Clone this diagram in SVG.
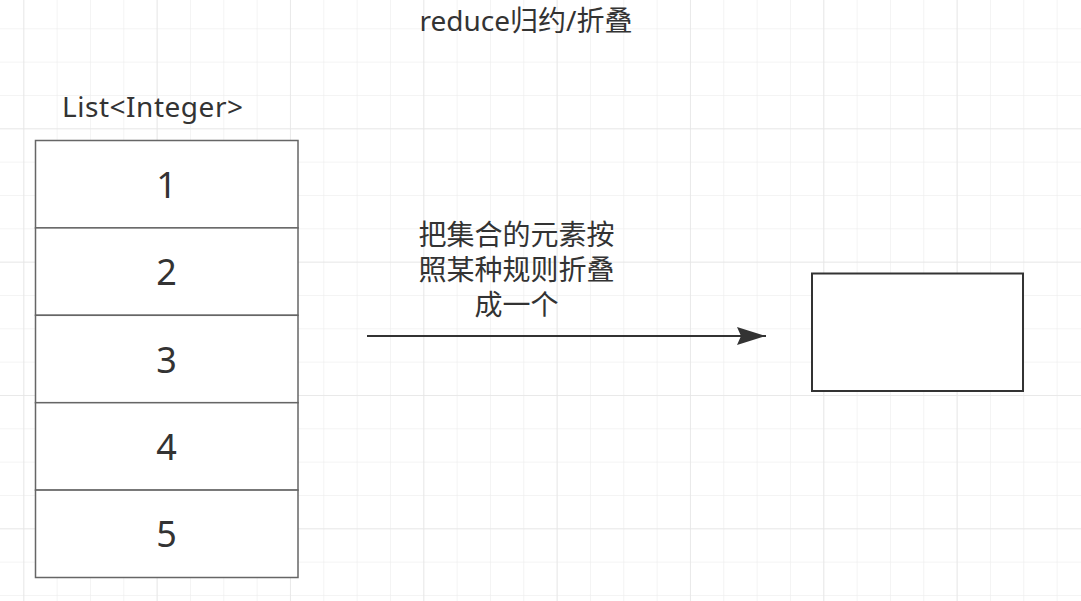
<svg xmlns="http://www.w3.org/2000/svg" width="1081" height="601" viewBox="0 0 1081 601">
<defs>
<pattern id="minor" x="23.3" y="28.3" width="33.333" height="33.333" patternUnits="userSpaceOnUse">
<path d="M0 0H33.333M0 0V33.333" fill="none" stroke="#f0f0f0" stroke-width="1.5"/>
</pattern>
<pattern id="major" x="23.3" y="-5" width="133.333" height="133.333" patternUnits="userSpaceOnUse">
<path d="M0 0H133.333M0 0V133.333" fill="none" stroke="#e6e6e6" stroke-width="1.5"/>
</pattern>
<marker id="arrow" markerUnits="userSpaceOnUse" markerWidth="30" markerHeight="20" refX="29" refY="9" orient="auto">
<path d="M0 0L29 9L0 18L4 9Z" fill="#333333"/>
</marker>
</defs>
<style>
.t{font-family:"Microsoft YaHei","Noto Sans","Noto Sans CJK SC",sans-serif;fill:#333333;}
.cell{fill:#ffffff;stroke:#666666;stroke-width:1.5;}
.num{font-size:36px;text-anchor:middle;}
</style>
<rect width="1081" height="601" fill="#ffffff"/>
<rect width="1081" height="601" fill="url(#minor)"/>
<rect width="1081" height="601" fill="url(#major)"/>

<g id="title"><text class="t" x="526" y="31" font-size="28" text-anchor="middle">reduce归约/折叠</text></g>
<g id="list-label"><text class="t" x="152.5" y="117" font-size="28" text-anchor="middle" textLength="181" lengthAdjust="spacing">List&lt;Integer&gt;</text></g>

<g id="list">
<g id="cell1"><rect class="cell" x="35.5" y="140.5" width="262.5" height="87.4"/><text class="t num" x="166.5" y="197.5">1</text></g>
<g id="cell2"><rect class="cell" x="35.5" y="227.9" width="262.5" height="87.4"/><text class="t num" x="166.5" y="285">2</text></g>
<g id="cell3"><rect class="cell" x="35.5" y="315.3" width="262.5" height="87.4"/><text class="t num" x="166.5" y="372.5">3</text></g>
<g id="cell4"><rect class="cell" x="35.5" y="402.7" width="262.5" height="87.4"/><text class="t num" x="166.5" y="460">4</text></g>
<g id="cell5"><rect class="cell" x="35.5" y="490.1" width="262.5" height="87.4"/><text class="t num" x="166.5" y="547">5</text></g>
</g>

<g id="result"><rect x="812" y="273.5" width="211" height="117.5" fill="#ffffff" stroke="#333333" stroke-width="2"/></g>

<g id="connectors">
<line x1="367" y1="336" x2="766" y2="336" stroke="#333333" stroke-width="2" marker-end="url(#arrow)"/>
<text class="t" font-size="28" text-anchor="middle"><tspan x="516.5" y="245">把集合的元素按</tspan><tspan x="516.5" y="280">照某种规则折叠</tspan><tspan x="516.5" y="315">成一个</tspan></text>
</g>
</svg>
